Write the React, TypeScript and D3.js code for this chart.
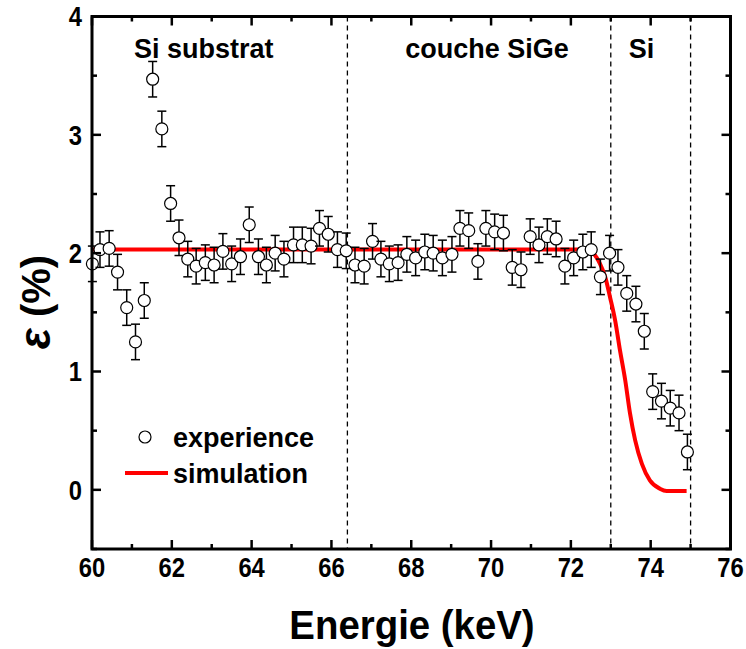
import React from "react";
import * as d3 from "d3";

const expX = [60.01,60.2,60.43,60.64,60.87,61.09,61.31,61.52,61.75,61.97,62.18,62.4,62.61,62.84,63.06,63.28,63.5,63.72,63.94,64.17,64.37,64.59,64.81,65.05,65.27,65.49,65.7,65.92,66.15,66.37,66.59,66.82,67.03,67.24,67.45,67.67,67.89,68.11,68.34,68.55,68.78,69.02,69.22,69.44,69.67,69.87,70.09,70.31,70.53,70.75,70.98,71.2,71.41,71.63,71.85,72.07,72.3,72.51,72.74,72.97,73.18,73.4,73.63,73.84,74.05,74.27,74.49,74.71,74.92];
const expY = [1.91,2.03,2.04,1.84,1.54,1.25,1.6,3.47,3.05,2.42,2.13,1.95,1.89,1.92,1.9,2.015,1.91,1.97,2.24,1.97,1.9,2.0,1.95,2.07,2.07,2.06,2.21,2.16,2.03,2.02,1.9,1.89,2.1,1.95,1.91,1.92,1.99,1.96,2.01,2.0,1.96,1.99,2.21,2.19,1.93,2.21,2.18,2.17,1.88,1.86,2.14,2.07,2.14,2.12,1.89,1.96,2.01,2.03,1.8,2.0,1.88,1.66,1.57,1.34,0.83,0.75,0.69,0.65,0.32];
const expErr = 0.15;

const simX = [60,72.4,72.5,72.56,72.65,72.73,72.86,72.98,73.11,73.23,73.36,73.48,73.61,73.78,73.98,74.23,74.4,74.9];
const simY = [2.03,2.03,2.02,2.0,1.96,1.91,1.8,1.63,1.43,1.18,0.93,0.65,0.42,0.22,0.08,0.01,-0.01,-0.01];

const xTicks = [60,62,64,66,68,70,72,74,76];
const xMinor = [61,63,65,67,69,71,73,75];
const yTicks = [0,1,2,3,4];
const yMinor = [-0.5,0.5,1.5,2.5,3.5];
const dividers = [66.4,73,75];
const regionLabels = ["Si substrat","couche SiGe","Si"];
const regionX = [61.05,67.85,73.45];

const FONT = "'Liberation Sans', Arial, sans-serif";

function T(props: { x: number; y: number; size: number; sx?: number; anchor?: string; dy?: string; children: React.ReactNode }) {
  const sx = props.sx ?? 1;
  return (
    <text
      transform={`translate(${props.x},${props.y}) scale(${sx},1)`}
      fontSize={props.size}
      fontWeight="bold"
      textAnchor={props.anchor || "start"}
      dy={props.dy}
    >
      {props.children}
    </text>
  );
}

export default function App() {
  const L = 92, R = 730.5, Tp = 16.5, B = 549;
  const x = d3.scaleLinear().domain([60, 76]).range([L, R]);
  const y = d3.scaleLinear().domain([-0.5, 4]).range([B, Tp]);
  const line = d3.line<number>()
    .x((_, i) => x(simX[i]))
    .y((d) => y(d))
    .curve(d3.curveMonotoneX);
  const simPath = line(simY) || "";

  return (
    <svg width={746} height={649} style={{ position: "absolute", left: 0, top: 0, background: "#fff" }} fontFamily={FONT}>
      {dividers.map((d) => (
        <line key={d} x1={x(d)} x2={x(d)} y1={Tp} y2={B} stroke="#000" strokeWidth={1.3} strokeDasharray="5,4" />
      ))}
      {regionLabels.map((t, i) => (
        <T key={t} x={x(regionX[i])} y={58} size={27}>{t}</T>
      ))}
      <path d={simPath} fill="none" stroke="#ff0000" strokeWidth={4} />
      {expY.map((v, i) => {
        const cx = x(expX[i]);
        const y1 = y(v + expErr), y2 = y(v - expErr);
        return (
          <g key={i}>
            <line x1={cx} x2={cx} y1={y1} y2={y2} stroke="#000" strokeWidth={1.5} />
            <line x1={cx - 4.5} x2={cx + 4.5} y1={y1} y2={y1} stroke="#000" strokeWidth={1.5} />
            <line x1={cx - 4.5} x2={cx + 4.5} y1={y2} y2={y2} stroke="#000" strokeWidth={1.5} />
            <circle cx={cx} cy={y(v)} r={6} fill="#fff" stroke="#000" strokeWidth={1.2} />
          </g>
        );
      })}
      <rect x={L} y={Tp} width={R - L} height={B - Tp} fill="none" stroke="#000" strokeWidth={3} />
      {xTicks.map((t) => (
        <g key={"xt" + t}>
          <line x1={x(t)} x2={x(t)} y1={B} y2={B - 9} stroke="#000" strokeWidth={2.5} />
          <line x1={x(t)} x2={x(t)} y1={Tp} y2={Tp + 9} stroke="#000" strokeWidth={2.5} />
          <T x={x(t)} y={577} size={27} sx={0.88} anchor="middle">{t}</T>
        </g>
      ))}
      {xMinor.map((t) => (
        <g key={"xm" + t}>
          <line x1={x(t)} x2={x(t)} y1={B} y2={B - 5} stroke="#000" strokeWidth={2.5} />
          <line x1={x(t)} x2={x(t)} y1={Tp} y2={Tp + 5} stroke="#000" strokeWidth={2.5} />
        </g>
      ))}
      {yTicks.map((t) => (
        <g key={"yt" + t}>
          <line x1={L} x2={L + 9} y1={y(t)} y2={y(t)} stroke="#000" strokeWidth={2.5} />
          <line x1={R} x2={R - 9} y1={y(t)} y2={y(t)} stroke="#000" strokeWidth={2.5} />
          <T x={82} y={y(t)} size={27} sx={0.88} anchor="end" dy="0.36em">{t}</T>
        </g>
      ))}
      {yMinor.map((t) => (
        <g key={"ym" + t}>
          <line x1={L} x2={L + 5} y1={y(t)} y2={y(t)} stroke="#000" strokeWidth={2.5} />
          <line x1={R} x2={R - 5} y1={y(t)} y2={y(t)} stroke="#000" strokeWidth={2.5} />
        </g>
      ))}
      <T x={412} y={639} size={40} sx={0.96} anchor="middle">Energie (keV)</T>
      <text transform="translate(50,302) rotate(-90)" fontSize={40} fontWeight="bold" textAnchor="middle">
        <tspan fontStyle="italic" fontSize={44}>ε</tspan> (%)
      </text>
      <circle cx={145} cy={437} r={6} fill="#fff" stroke="#000" strokeWidth={1.2} />
      <T x={173} y={437} size={27} dy="0.36em">experience</T>
      <line x1={125} x2={168} y1={473} y2={473} stroke="#ff0000" strokeWidth={4} />
      <T x={173} y={473} size={27} dy="0.36em">simulation</T>
    </svg>
  );
}
